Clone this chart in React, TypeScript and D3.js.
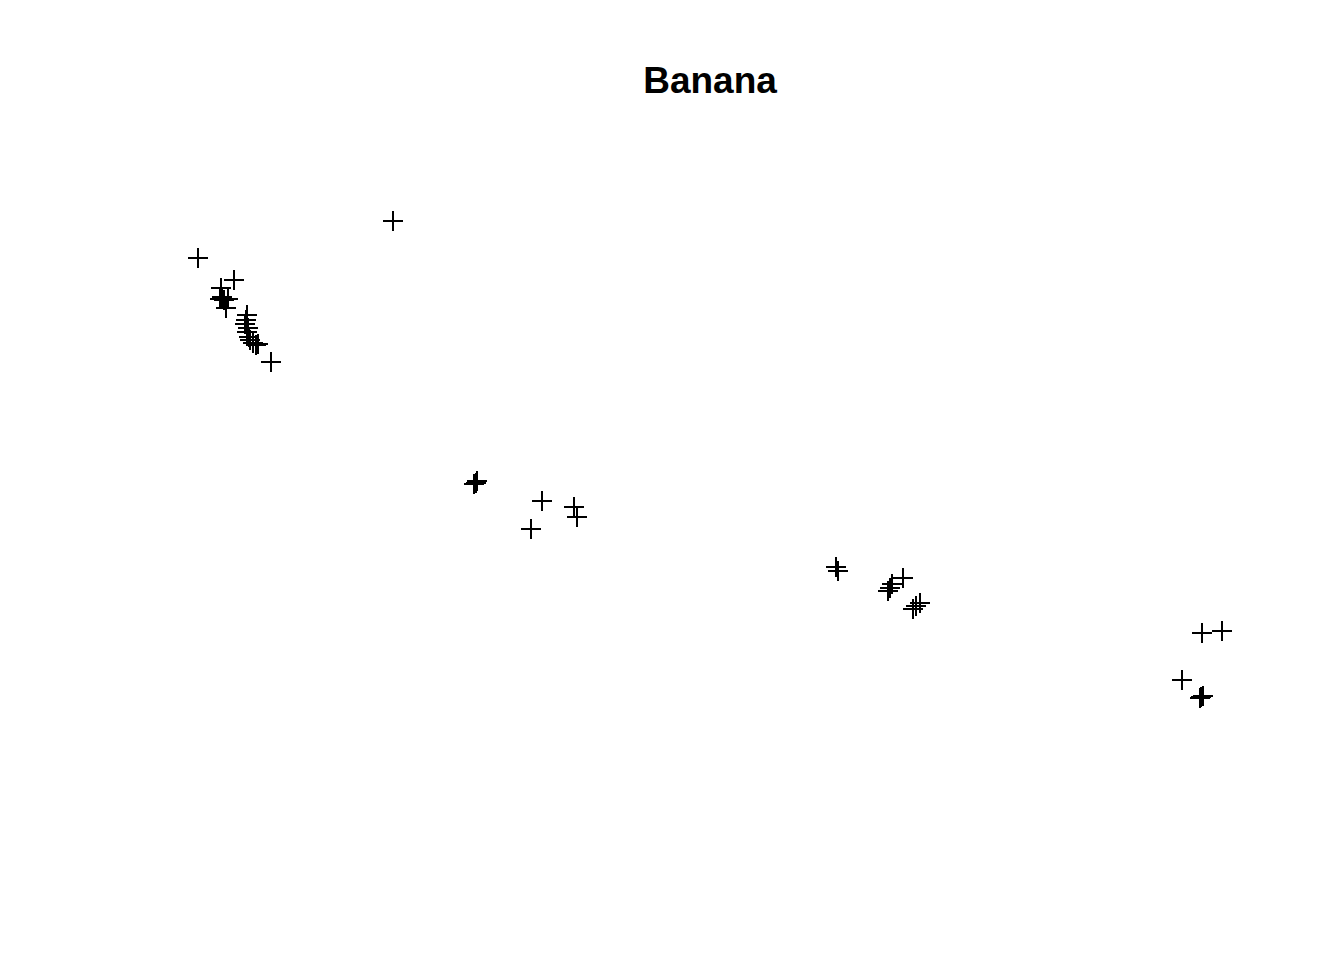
import { useEffect, useRef } from "react";
import * as d3 from "d3";

// banana sample positions (arbitrary units)
const xValues = [
  9.8, 13.4, 12.1, 12.2, 12.0, 12.8, 12.4, 12.6, 14.7, 14.6, 14.5, 14.8, 14.7, 14.9,
  15.0, 15.3, 15.6, 15.8, 17.1, 29.3, 37.4, 37.7, 37.6, 44.2, 47.4, 47.7, 43.1, 73.6,
  73.8, 80.3, 79.2, 79.0, 78.8, 82.0, 81.3, 81.6, 110.2, 112.2, 108.2, 110.0, 110.3, 110.1,
];
const yValues = [
  64.2, 62.0, 61.2, 60.3, 60.1, 60.1, 60.0, 59.2, 58.5, 58.0, 57.6, 57.2, 56.8, 56.3,
  56.0, 55.7, 55.5, 55.6, 53.8, 67.9, 41.6, 41.9, 41.7, 39.9, 39.3, 38.3, 37.1, 33.3,
  32.9, 32.2, 31.6, 31.2, 30.9, 29.7, 29.1, 29.4, 26.7, 26.9, 22.0, 20.2, 20.4, 20.3,
];
const title = "Banana";

export default function App() {
  const svgRef = useRef<SVGSVGElement>(null);
  const width = 1344;
  const height = 960;

  useEffect(() => {
    if (!svgRef.current) return;
    const svg = d3.select(svgRef.current);
    svg.selectAll("*").remove();

    const x = d3.scaleLinear().domain([0, 120]).range([100, 1300]);
    const y = d3.scaleLinear().domain([0, 80]).range([900, 100]);
    const arm = 10;

    svg
      .append("rect")
      .attr("width", width)
      .attr("height", height)
      .attr("fill", "white");

    svg
      .append("text")
      .attr("x", 710)
      .attr("y", 93)
      .attr("text-anchor", "middle")
      .attr("font-family", "Liberation Sans, Arial, sans-serif")
      .attr("font-weight", "bold")
      .attr("font-size", "37px")
      .text(title);

    const pts = xValues.map((v, i) => [v, yValues[i]]);
    const g = svg
      .append("g")
      .attr("stroke", "black")
      .attr("stroke-width", 2)
      .attr("shape-rendering", "crispEdges");

    g.selectAll(".h")
      .data(pts)
      .join("line")
      .attr("x1", (d) => x(d[0]) - arm)
      .attr("x2", (d) => x(d[0]) + arm)
      .attr("y1", (d) => y(d[1]))
      .attr("y2", (d) => y(d[1]));

    g.selectAll(".v")
      .data(pts)
      .join("line")
      .attr("x1", (d) => x(d[0]))
      .attr("x2", (d) => x(d[0]))
      .attr("y1", (d) => y(d[1]) - arm)
      .attr("y2", (d) => y(d[1]) + arm);
  }, []);

  return (
    <svg
      ref={svgRef}
      width={width}
      height={height}
      style={{ position: "absolute", left: 0, top: 0 }}
    />
  );
}
